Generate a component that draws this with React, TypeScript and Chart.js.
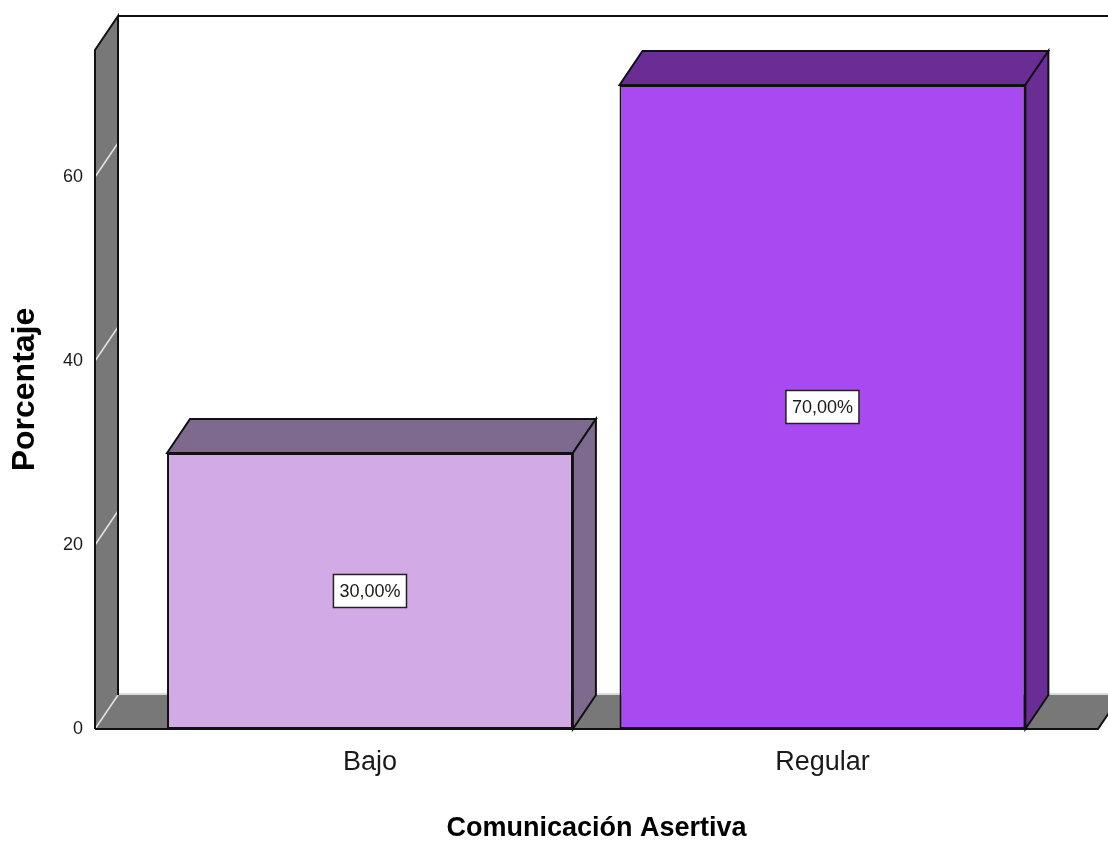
import React, { useEffect, useRef } from "react";
import { Chart, registerables } from "chart.js";

Chart.register(...registerables);

const categories = ["Bajo", "Regular"];
const percentages = [30, 70];
const yTickValues = [0, 20, 40, 60];
const frontColors = ["#D1AAE6", "#A84AF0"];
const sideColors = ["#7F6A8F", "#6A2D95"];

const DEPTH_X = 23;
const DEPTH_Y = -34;

function poly(ctx: CanvasRenderingContext2D, pts: number[][]) {
  ctx.beginPath();
  ctx.moveTo(pts[0][0], pts[0][1]);
  for (let i = 1; i < pts.length; i++) ctx.lineTo(pts[i][0], pts[i][1]);
  ctx.closePath();
}

const box3d = {
  id: "box3d",
  beforeDatasetsDraw(chart: any) {
    const { ctx, chartArea, scales } = chart;
    const { left, right, top, bottom } = chartArea;
    const y = scales.y;
    ctx.save();
    ctx.fillStyle = "#787878";
    poly(ctx, [
      [left, bottom],
      [right, bottom],
      [right + DEPTH_X, bottom + DEPTH_Y],
      [left + DEPTH_X, bottom + DEPTH_Y],
    ]);
    ctx.fill();
    poly(ctx, [
      [left, top],
      [left + DEPTH_X, top + DEPTH_Y],
      [left + DEPTH_X, bottom + DEPTH_Y],
      [left, bottom],
    ]);
    ctx.fill();
    ctx.strokeStyle = "#e4e4e4";
    ctx.lineWidth = 1.5;
    yTickValues.forEach((v) => {
      const py = y.getPixelForValue(v);
      ctx.beginPath();
      ctx.moveTo(left, py);
      ctx.lineTo(left + DEPTH_X, py + DEPTH_Y);
      ctx.stroke();
    });
    ctx.strokeStyle = "#cfcfcf";
    ctx.lineWidth = 1.5;
    ctx.beginPath();
    ctx.moveTo(left + DEPTH_X, bottom + DEPTH_Y - 1);
    ctx.lineTo(right + DEPTH_X, bottom + DEPTH_Y - 1);
    ctx.stroke();
    ctx.strokeStyle = "#111";
    ctx.lineWidth = 2;
    ctx.lineJoin = "miter";
    ctx.beginPath();
    ctx.moveTo(left, bottom);
    ctx.lineTo(left, top);
    ctx.lineTo(left + DEPTH_X, top + DEPTH_Y);
    ctx.lineTo(left + DEPTH_X, bottom + DEPTH_Y);
    ctx.stroke();
    ctx.beginPath();
    ctx.moveTo(left + DEPTH_X, top + DEPTH_Y);
    ctx.lineTo(right + DEPTH_X, top + DEPTH_Y);
    ctx.stroke();
    ctx.beginPath();
    ctx.moveTo(left, bottom);
    ctx.lineTo(right, bottom);
    ctx.lineTo(right + DEPTH_X, bottom + DEPTH_Y);
    ctx.stroke();
    ctx.restore();
  },
  afterDatasetsDraw(chart: any) {
    const { ctx } = chart;
    const meta = chart.getDatasetMeta(0);
    ctx.save();
    meta.data.forEach((bar: any, i: number) => {
      const { x, y, base, width } = bar.getProps(["x", "y", "base", "width"], true);
      const L = x - width / 2;
      const R = x + width / 2;
      ctx.fillStyle = sideColors[i];
      ctx.strokeStyle = "#111";
      ctx.lineWidth = 2;
      ctx.lineJoin = "miter";
      poly(ctx, [
        [L, y],
        [L + DEPTH_X, y + DEPTH_Y],
        [R + DEPTH_X, y + DEPTH_Y],
        [R, y],
      ]);
      ctx.fill();
      ctx.stroke();
      poly(ctx, [
        [R, y],
        [R + DEPTH_X, y + DEPTH_Y],
        [R + DEPTH_X, base + DEPTH_Y],
        [R, base],
      ]);
      ctx.fill();
      ctx.stroke();
      const text = percentages[i].toFixed(2).replace(".", ",") + "%";
      ctx.font = "18px 'Liberation Sans', Arial, sans-serif";
      const tw = ctx.measureText(text).width;
      const bw = tw + 12;
      const bh = 33;
      const cy = (y + base) / 2;
      ctx.fillStyle = "#ffffff";
      ctx.fillRect(x - bw / 2, cy - bh / 2, bw, bh);
      ctx.lineWidth = 1.5;
      ctx.strokeStyle = "#222";
      ctx.strokeRect(x - bw / 2, cy - bh / 2, bw, bh);
      ctx.fillStyle = "#1a1a1a";
      ctx.textAlign = "center";
      ctx.textBaseline = "middle";
      ctx.fillText(text, x, cy + 1);
    });
    ctx.restore();
  },
};

export default function App() {
  const ref = useRef<HTMLCanvasElement>(null);
  useEffect(() => {
    if (!ref.current) return;
    Chart.defaults.font.family = "'Liberation Sans', Arial, sans-serif";
    const chart = new Chart(ref.current, {
      type: "bar",
      data: {
        datasets: [
          {
            data: percentages.map((v, i) => ({ x: i, y: v })),
            backgroundColor: frontColors,
            borderColor: "#111",
            borderWidth: 2,
            borderSkipped: false,
            barPercentage: 0.897,
            categoryPercentage: 1,
          },
        ],
      },
      options: {
        animation: false,
        responsive: false,
        layout: { padding: { top: 50, right: 10, left: 0, bottom: 0 } },
        plugins: { legend: { display: false }, tooltip: { enabled: false } },
        scales: {
          x: {
            type: "linear",
            offset: false,
            bounds: "data",
            min: -0.6077,
            max: 1.609,
            grid: { display: false, drawTicks: false, offset: false },
            border: { display: false },
            afterBuildTicks: (scale: any) => {
              scale.ticks = categories.map((_, i) => ({ value: i }));
            },
            afterFit: (scale: any) => {
              scale.height = 117;
            },
            ticks: {
              callback: (v: any) => categories[v] ?? "",
              font: { size: 27 },
              color: "#1a1a1a",
              padding: 17,
              maxRotation: 0,
              autoSkip: false,
              includeBounds: false,
            },
            title: {
              display: true,
              text: "Comunicación Asertiva",
              font: { size: 27, weight: "bold" },
              color: "#000",
              padding: { top: 0, bottom: 1 },
            },
          },
          y: {
            min: 0,
            max: 73.8,
            grid: { display: false, drawTicks: false },
            border: { display: false },
            afterBuildTicks: (scale: any) => {
              scale.ticks = yTickValues.map((v) => ({ value: v }));
            },
            afterFit: (scale: any) => {
              scale.width = 95;
            },
            ticks: {
              font: { size: 18 },
              color: "#1a1a1a",
              padding: 12,
            },
            title: {
              display: true,
              text: "Porcentaje",
              font: { size: 32, weight: "bold" },
              color: "#000",
              padding: { top: 6, bottom: 0 },
            },
          },
        },
      },
      plugins: [box3d],
    } as any);
    return () => chart.destroy();
  }, []);
  return (
    <div style={{ position: "absolute", left: 0, top: 0, width: 1108, height: 846 }}>
      <canvas ref={ref} width={1108} height={846} style={{ display: "block" }} />
    </div>
  );
}
